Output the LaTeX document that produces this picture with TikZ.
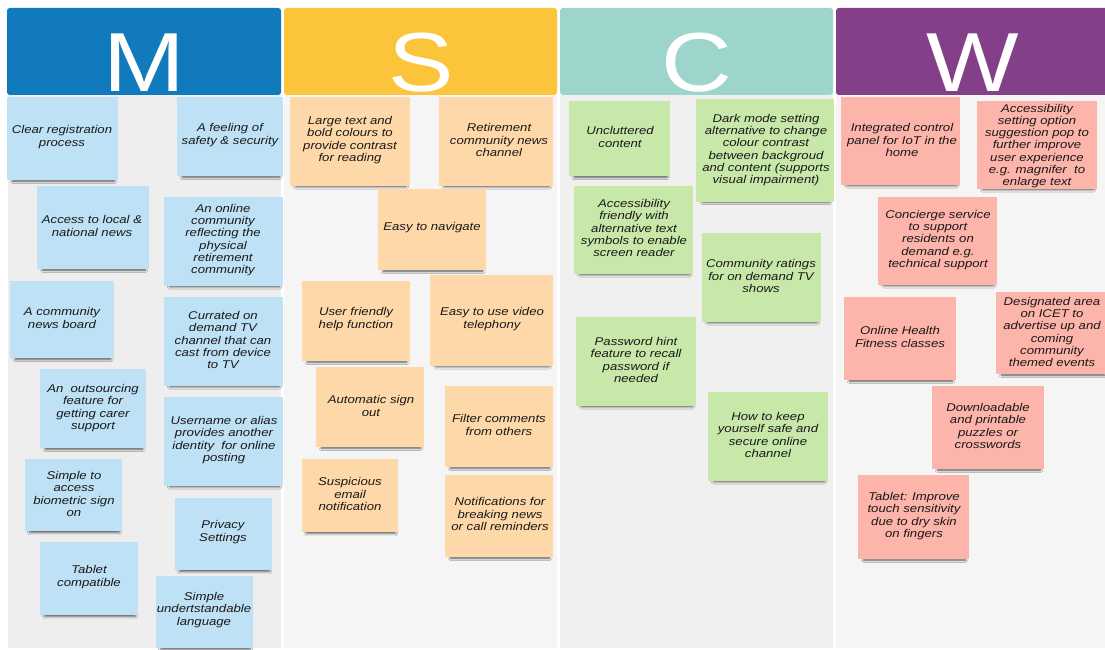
\documentclass[tikz,border=0pt]{standalone}
\usepackage{fontspec}
\setmainfont[FakeStretch=1.17]{Liberation Sans}
\usetikzlibrary{fit,shadows.blur}
\definecolor{mhead}{HTML}{117ABD}\definecolor{shead}{HTML}{FBC43A}\definecolor{chead}{HTML}{9DD5CC}\definecolor{whead}{HTML}{834089}
\definecolor{mnote}{HTML}{BEE1F5}\definecolor{snote}{HTML}{FED8A8}\definecolor{cnote}{HTML}{C7E8A9}\definecolor{wnote}{HTML}{FDB4AA}
\begin{document}
\begin{tikzpicture}[x=0.025cm,y=-0.025cm,every node/.style={font=\fontsize{8}{8.7}\selectfont\itshape,text=black!90,align=center,inner sep=0pt},head/.style={fill=#1,rounded corners=2pt,inner sep=0pt},letter/.style={font=\fontsize{59.6}{60}\selectfont,text=white,anchor=base},note/.style={fill=#1,inner sep=0pt,blur shadow={shadow xshift=0.8pt,shadow yshift=-3.4pt,shadow scale=0.92,shadow blur radius=1.8pt,shadow opacity=65}}]
\fill[white] (0,0) rectangle (1105,650);\useasboundingbox (0,0) rectangle (1105,650);
\fill[black!6.5] (8,95) rectangle (281,648);\fill[blue!2!black!4] (284,95) rectangle (557,648);\fill[black!6] (560,95) rectangle (833,648);\fill[blue!2!black!4] (836,95) rectangle (1105,648);
\node[head=mhead,fit={(7,8) (281,95)}] (hm) {};\node[head=shead,fit={(284,8) (557,95)}] (hs) {};\node[head=chead,fit={(560,8) (833,95)}] (hc) {};\node[head=whead,fit={(836,8) (1110,95)}] (hw) {};
\node[letter] (lm) at (144,92) {M};\node[letter] (ls) at (421,92) {S};\node[letter] (lc) at (697,92) {C};\node[letter] (lw) at (973,92) {W};
\node[note=mnote,fit={(7,97) (118,180)}] (m1) {};\node (m1t) at (62,137) {Clear registration\\process};
\node[note=mnote,fit={(177,97) (283,176)}] (m2) {};\node (m2t) at (230,135) {A feeling of\\safety \& security};
\node[note=mnote,fit={(37,186) (149,269)}] (m3) {};\node (m3t) at (92,226) {Access to local \&\\national news};
\node[note=mnote,fit={(164,197) (283,286)}] (m4) {};\node (m4t) at (223,240) {An online\\community\\reflecting the\\physical\\retirement\\community};
\node[note=mnote,fit={(10,281) (114,358)}] (m5) {};\node (m5t) at (62,318) {A community\\news board};
\node[note=mnote,fit={(164,297) (283,386)}] (m6) {};\node (m6t) at (223,340) {Currated on\\demand TV\\channel that can\\cast from device\\to TV};
\node[note=mnote,fit={(40,369) (146,448)}] (m7) {};\node (m7t) at (93,408) {An~ outsourcing\\feature for\\getting carer\\support};
\node[note=mnote,fit={(164,397) (283,486)}] (m8) {};\node (m8t) at (224,440) {Username or alias\\provides another\\identity~ for online\\posting};
\node[note=mnote,fit={(25,459) (122,531)}] (m9) {};\node (m9t) at (74,494) {Simple to\\access\\biometric sign\\on};
\node[note=mnote,fit={(175,498) (272,570)}] (m10) {};\node (m10t) at (223,532) {Privacy\\Settings};
\node[note=mnote,fit={(40,542) (138,615)}] (m11) {};\node (m11t) at (89,577) {Tablet\\compatible};
\node[note=mnote,fit={(156,576) (253,648)}] (m12) {};\node (m12t) at (204,610) {Simple\\undertstandable\\language};
\node[note=snote,fit={(290,97) (410,186)}] (s1) {};\node (s1t) at (350,140) {Large text and\\bold colours to\\provide contrast\\for reading};
\node[note=snote,fit={(439,97) (553,186)}] (s2) {};\node (s2t) at (499,140) {Retirement\\community news\\channel};
\node[note=snote,fit={(378,189) (486,270)}] (s3) {};\node (s3t) at (432,228) {Easy to navigate};
\node[note=snote,fit={(302,281) (410,361)}] (s4) {};\node (s4t) at (356,319) {User friendly\\help function};
\node[note=snote,fit={(430,275) (553,366)}] (s5) {};\node (s5t) at (492,319) {Easy to use video\\telephony};
\node[note=snote,fit={(316,367) (424,447)}] (s6) {};\node (s6t) at (371,406) {Automatic sign\\out};
\node[note=snote,fit={(445,386) (553,467)}] (s7) {};\node (s7t) at (499,425) {Filter comments\\from others};
\node[note=snote,fit={(302,459) (398,532)}] (s8) {};\node (s8t) at (350,494) {Suspicious\\email\\notification};
\node[note=snote,fit={(445,475) (553,557)}] (s9) {};\node (s9t) at (500,514) {Notifications for\\breaking news\\or call reminders};
\node[note=cnote,fit={(569,101) (670,176)}] (c1) {};\node (c1t) at (620,137) {Uncluttered\\content};
\node[note=cnote,fit={(696,99) (834,202)}] (c2) {};\node (c2t) at (766,150) {Dark mode setting\\alternative to change\\colour contrast\\between backgroud\\and content (supports\\visual impairment)};
\node[note=cnote,fit={(574,186) (693,274)}] (c3) {};\node (c3t) at (634,228) {Accessibility\\friendly with\\alternative text\\symbols to enable\\screen reader};
\node[note=cnote,fit={(702,233) (821,322)}] (c4) {};\node (c4t) at (761,276) {Community ratings\\for on demand TV\\shows};
\node[note=cnote,fit={(576,317) (696,406)}] (c5) {};\node (c5t) at (636,360) {Password hint\\feature to recall\\password if\\needed};
\node[note=cnote,fit={(708,392) (828,481)}] (c6) {};\node (c6t) at (768,435) {How to keep\\yourself safe and\\secure online\\channel};
\node[note=wnote,fit={(841,97) (960,185)}] (w1) {};\node (w1t) at (902,140) {Integrated control\\panel for IoT in the\\home};
\node[note=wnote,fit={(977,101) (1097,189)}] (w2) {};\node (w2t) at (1037,146) {Accessibility\\setting option\\suggestion pop to\\further improve\\user experience\\e.g. magnifer~ to\\enlarge text};
\node[note=wnote,fit={(878,197) (997,285)}] (w3) {};\node (w3t) at (938,240) {Concierge service\\to support\\residents on\\demand e.g.\\technical support};
\node[note=wnote,fit={(844,297) (956,380)}] (w4) {};\node (w4t) at (900,337) {Online Health\\Fitness classes};
\node[note=wnote,fit={(996,292) (1108,374)}] (w5) {};\node (w5t) at (1052,332) {Designated area\\on ICET to\\advertise up and\\coming\\community\\themed events};
\node[note=wnote,fit={(932,386) (1044,469)}] (w6) {};\node (w6t) at (988,426) {Downloadable\\and printable\\puzzles or\\crosswords};
\node[note=wnote,fit={(858,475) (969,559)}] (w7) {};\node (w7t) at (914,516) {Tablet: Improve\\touch sensitivity\\due to dry skin\\on fingers};
\end{tikzpicture}
\end{document}
